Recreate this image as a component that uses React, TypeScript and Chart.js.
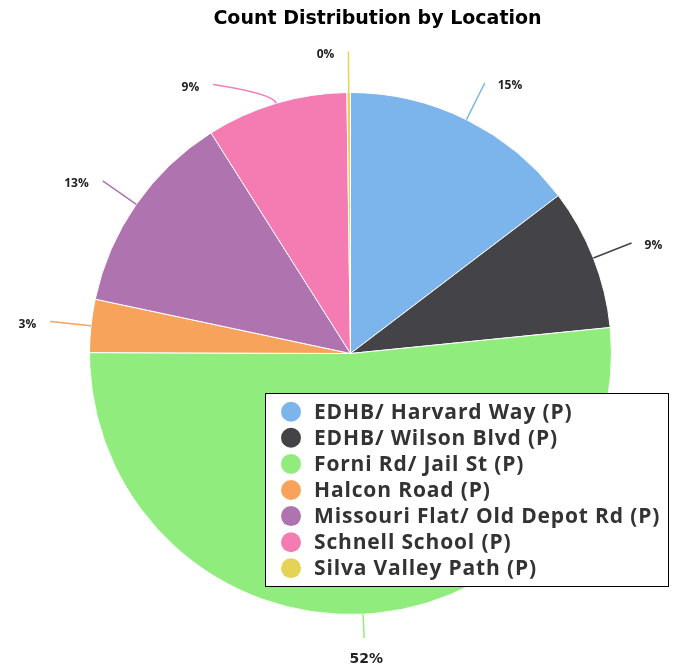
import React, { useEffect, useRef } from "react";
import { Chart, registerables } from "chart.js";

Chart.register(...registerables);

const chartTitle = "Count Distribution by Location";
const categories = [
  "EDHB/ Harvard Way (P)",
  "EDHB/ Wilson Blvd (P)",
  "Forni Rd/ Jail St (P)",
  "Halcon Road (P)",
  "Missouri Flat/ Old Depot Rd (P)",
  "Schnell School (P)",
  "Silva Valley Path (P)",
];
const counts = [67, 40, 236, 15, 58, 40, 1];
const colors = ["#7cb5ec", "#434348", "#90ed7d", "#f7a35c", "#af73b0", "#f47cb2", "#e4d354"];

const W = 675;
const H = 669;

const outLabels = {
  id: "outLabels",
  afterDatasetsDraw(chart: any) {
    const ctx = chart.ctx;
    const meta = chart.getDatasetMeta(0);
    const total = counts.reduce((a, b) => a + b, 0);
    const items = meta.data.map((arc: any, i: number) => {
      const p = arc.getProps(["x", "y", "startAngle", "endAngle", "outerRadius"], true);
      const mid = (p.startAngle + p.endAngle) / 2;
      const r = p.outerRadius;
      const R2 = r + 41;
      const cos = Math.cos(mid);
      const sin = Math.sin(mid);
      return {
        i,
        cx: p.x,
        cy: p.y,
        R2,
        cos,
        sin,
        ex: p.x + r * cos,
        ey: p.y + r * sin,
        bx: p.x + (r + 10) * cos,
        by: p.y + (r + 10) * sin,
        x: p.x + R2 * cos,
        y: p.y + R2 * sin,
        side: sin > 0.98 ? "bottom" : cos >= 0 ? "right" : "left",
        pct: Math.round((counts[i] / total) * 100),
      };
    });
    ["left", "right"].forEach((side) => {
      const arr = items.filter((it: any) => it.side === side).sort((a: any, b: any) => a.y - b.y);
      for (let k = 1; k < arr.length; k++) {
        if (arr[k].y < arr[k - 1].y + 33) arr[k].y = arr[k - 1].y + 33;
      }
      arr.forEach((it: any) => {
        const dy = it.y - it.cy;
        const dx = Math.sqrt(Math.max(0, it.R2 * it.R2 - dy * dy));
        it.x = it.cx + (side === "right" ? dx : -dx);
      });
    });
    items.forEach((it: any) => {
      if (it.side === "bottom") {
        const maxY = H - 31;
        if (it.y > maxY) {
          const t = (maxY - it.cy) / (it.R2 * it.sin);
          it.x = it.cx + it.R2 * t * it.cos;
          it.y = maxY;
        }
      }
    });
    ctx.save();
    items.forEach((it: any) => {
      ctx.beginPath();
      ctx.strokeStyle = colors[it.i];
      ctx.lineWidth = 1.5;
      ctx.moveTo(it.ex, it.ey);
      ctx.quadraticCurveTo(it.bx, it.by, it.x, it.y);
      ctx.stroke();
    });
    items.forEach((it: any) => {
      const txt = it.pct + "%";
      ctx.fillStyle = "#222";
      ctx.textBaseline = "middle";
      if (it.side === "bottom") {
        ctx.font = "bold 14px 'DejaVu Sans'";
        ctx.textAlign = "center";
        ctx.fillText(txt, it.x + 2, it.y + 21);
      } else {
        ctx.font = "bold 12px 'Open Sans'";
        if (it.side === "right") {
          ctx.textAlign = "left";
          ctx.fillText(txt, it.x + 13, it.y + 3);
        } else {
          ctx.textAlign = "right";
          ctx.fillText(txt, it.x - 14, it.y + 3);
        }
      }
    });
    ctx.restore();
  },
  afterDraw(chart: any) {
    const ctx = chart.ctx;
    ctx.save();
    // title
    ctx.font = "bold 19px 'DejaVu Sans'";
    ctx.fillStyle = "#000";
    ctx.textAlign = "center";
    ctx.textBaseline = "alphabetic";
    ctx.fillText(chartTitle, 377.5, 24);
    // legend box
    const lx = 265, ly = 393, lw = 404, lh = 194;
    ctx.fillStyle = "#fff";
    ctx.fillRect(lx, ly, lw, lh);
    ctx.strokeStyle = "#000";
    ctx.lineWidth = 1;
    ctx.strokeRect(lx + 0.5, ly + 0.5, lw - 1, lh - 1);
    ctx.font = "bold 21px 'Open Sans'";
    try {
      (ctx as any).letterSpacing = "0.85px";
    } catch (e) {}
    ctx.textAlign = "left";
    ctx.textBaseline = "middle";
    categories.forEach((c, i) => {
      const y = 411.7 + i * 26.1;
      ctx.beginPath();
      ctx.fillStyle = colors[i];
      ctx.arc(291, y, 10, 0, Math.PI * 2);
      ctx.fill();
      ctx.fillStyle = "#333";
      ctx.fillText(c, 314, y + 1);
    });
    ctx.restore();
  },
};

export default function App() {
  const ref = useRef<HTMLCanvasElement | null>(null);
  useEffect(() => {
    if (!ref.current) return;
    const chart = new Chart(ref.current, {
      type: "pie",
      data: {
        labels: categories,
        datasets: [
          {
            data: counts,
            backgroundColor: colors,
            borderColor: "#ffffff",
            borderWidth: 1,
          },
        ],
      },
      options: {
        animation: false,
        responsive: true,
        maintainAspectRatio: false,
        layout: { padding: { left: 88, top: 92, right: 62, bottom: 54 } },
        plugins: {
          legend: { display: false },
          tooltip: { enabled: false },
          title: { display: false },
        },
      },
      plugins: [outLabels],
    });
    return () => chart.destroy();
  }, []);
  return (
    <div style={{ position: "fixed", left: 0, top: 0, width: W, height: H, background: "#fff" }}>
      <canvas ref={ref} />
    </div>
  );
}
